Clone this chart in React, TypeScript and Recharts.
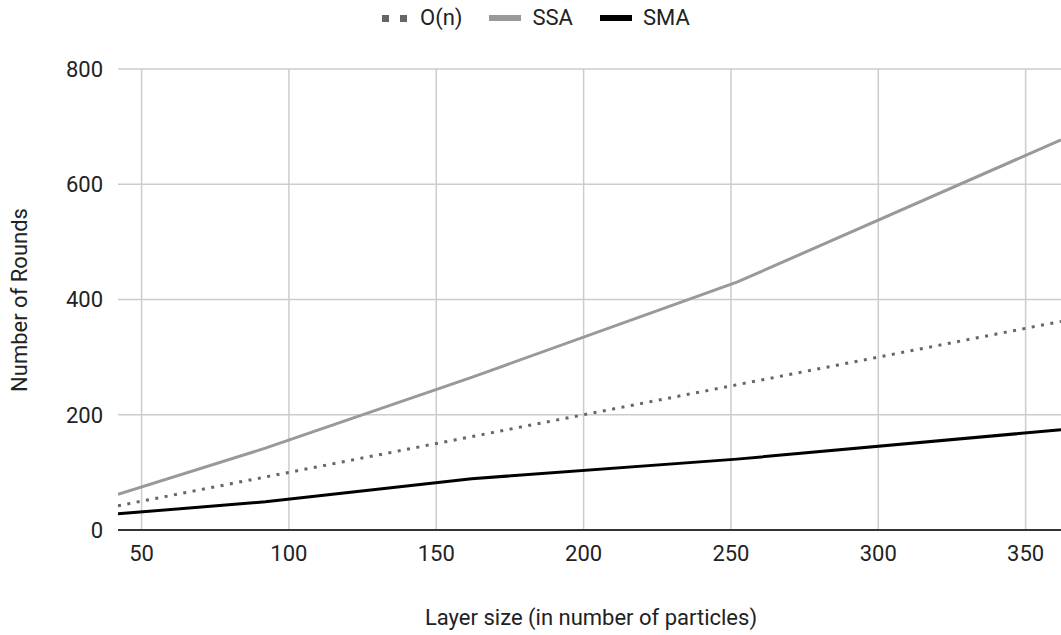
import React from 'react';
import { LineChart, Line, XAxis, YAxis, CartesianGrid } from 'recharts';

const layerSizes = [42, 92, 162, 252, 362];
const linearRounds = [42, 92, 162, 252, 362];
const ssaRounds = [62, 142, 265, 430, 677];
const smaRounds = [28, 49, 89, 123, 174];

const xTicks = [50, 100, 150, 200, 250, 300, 350];
const yTicks = [0, 200, 400, 600, 800];

const data = layerSizes.map((n, i) => ({
  n,
  linear: linearRounds[i],
  ssa: ssaRounds[i],
  sma: smaRounds[i],
}));

const FONT = 'Roboto, "Noto Sans", sans-serif';
const TEXT = '#222';

function LegendItem({ kind, label }: { kind: 'dots' | 'gray' | 'black'; label: string }) {
  let icon: React.ReactNode;
  if (kind === 'dots') {
    icon = (
      <svg width={28} height={10}>
        <rect x={1} y={2} width={7} height={7} fill="#666" />
        <rect x={19} y={2} width={7} height={7} fill="#666" />
      </svg>
    );
  } else {
    icon = (
      <svg width={32} height={10}>
        <rect x={0} y={2} width={32} height={6} fill={kind === 'gray' ? '#999' : '#000'} />
      </svg>
    );
  }
  return (
    <div style={{ display: 'flex', alignItems: 'center', gap: 11 }}>
      {icon}
      <span>{label}</span>
    </div>
  );
}

export default function App() {
  return (
    <div
      style={{
        position: 'absolute',
        left: 0,
        top: 0,
        width: 1061,
        height: 635,
        background: '#fff',
        fontFamily: FONT,
        color: TEXT,
      }}
    >
      {/* legend */}
      <div
        style={{
          position: 'absolute',
          top: 4,
          left: 381,
          display: 'flex',
          gap: 27,
          fontSize: 22,
          lineHeight: '28px',
        }}
      >
        <LegendItem kind="dots" label="O(n)" />
        <LegendItem kind="gray" label="SSA" />
        <LegendItem kind="black" label="SMA" />
      </div>

      {/* axis titles */}
      <div
        style={{
          position: 'absolute',
          left: 19,
          top: 300,
          transform: 'translate(-50%, -50%) rotate(-90deg)',
          whiteSpace: 'nowrap',
          fontSize: 22,
        }}
      >
        Number of Rounds
      </div>
      <div
        style={{
          position: 'absolute',
          left: 591,
          top: 617,
          transform: 'translate(-50%, -50%)',
          whiteSpace: 'nowrap',
          fontSize: 22,
        }}
      >
        Layer size (in number of particles)
      </div>

      <LineChart
        width={1061}
        height={635}
        data={data}
        margin={{ top: 69, right: 0, bottom: 0, left: 0 }}
        style={{ position: 'absolute', left: 0, top: 0 }}
      >
        <CartesianGrid stroke="#ccc" strokeWidth={1.5} horizontalValues={yTicks} verticalValues={xTicks} />
        <XAxis
          dataKey="n"
          type="number"
          domain={[42, 362]}
          ticks={xTicks}
          allowDataOverflow
          tickLine={false}
          axisLine={{ stroke: '#333', strokeWidth: 2 }}
          tickMargin={9}
          tick={{ fill: TEXT, fontSize: 22, fontFamily: FONT }}
          height={105}
        />
        <YAxis
          type="number"
          domain={[0, 800]}
          ticks={yTicks}
          width={118}
          tickLine={false}
          axisLine={false}
          tickMargin={9}
          tick={{ fill: TEXT, fontSize: 22, fontFamily: FONT }}
        />
        <Line
          type="linear"
          dataKey="linear"
          stroke="#666"
          strokeWidth={3}
          strokeDasharray="3 6.5"
          dot={false}
          isAnimationActive={false}
        />
        <Line
          type="linear"
          dataKey="ssa"
          stroke="#999"
          strokeWidth={3}
          dot={false}
          isAnimationActive={false}
        />
        <Line
          type="linear"
          dataKey="sma"
          stroke="#000"
          strokeWidth={3}
          dot={false}
          isAnimationActive={false}
        />
      </LineChart>
    </div>
  );
}
